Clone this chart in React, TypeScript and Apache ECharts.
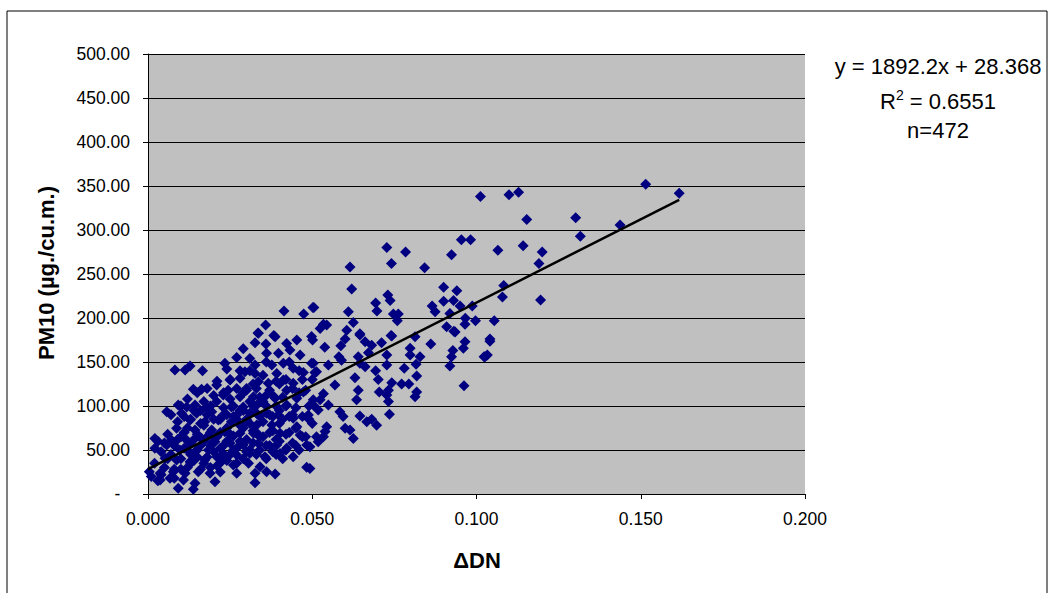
import React, { useEffect, useRef } from "react";
import * as echarts from "echarts";

// ΔDN (x) and PM10 (y)
const deltaDN: number[] = [
  0.0414, 0.0474, 0.0502, 0.0358, 0.0335, 0.0383,
  0.1012, 0.0954, 0.0982, 0.0727, 0.0784, 0.0924, 0.0741, 0.0615, 0.0842, 0.062, 0.09, 0.094,
  0.0505, 0.0693, 0.073, 0.0737, 0.0697, 0.061, 0.0625, 0.0747, 0.0762, 0.0759, 0.0865, 0.0874,
  0.09, 0.093, 0.095, 0.0987, 0.0919, 0.0966, 0.0997, 0.0965, 0.0909, 0.0931, 0.0534, 0.0524,
  0.0544, 0.0605, 0.0645, 0.074, 0.0498,
  0.1515, 0.1617, 0.1099, 0.1128, 0.1153, 0.1302, 0.1316, 0.1437, 0.1065, 0.1142, 0.12, 0.119,
  0.1083, 0.1079, 0.1195, 0.1054, 0.1041, 0.1041, 0.1033, 0.1023,
  0.0645, 0.0742, 0.0935, 0.0501, 0.0538, 0.0587, 0.06, 0.0661, 0.0681, 0.0711, 0.0798, 0.0813,
  0.0861, 0.0965, 0.0928, 0.096, 0.0924, 0.1026, 0.0581, 0.0589, 0.064, 0.0671, 0.0727, 0.0798,
  0.0828, 0.0503, 0.0549, 0.0645, 0.0661, 0.0727, 0.078, 0.0816, 0.0919, 0.0693, 0.0513, 0.063,
  0.0701, 0.0818, 0.0569, 0.0742, 0.0772, 0.0794, 0.0962, 0.064, 0.0704, 0.0732, 0.0818, 0.0635,
  0.0727, 0.0813, 0.0732, 0.0534, 0.0524, 0.0549, 0.0503, 0.0518, 0.0584, 0.0594, 0.0735, 0.0645,
  0.0666, 0.0681, 0.0696, 0.0544, 0.0539, 0.06, 0.0615, 0.0625, 0.0534, 0.0518, 0.0493, 0.0493,
  0.0336, 0.0387, 0.0326, 0.0359, 0.0422, 0.0453, 0.0361, 0.0397, 0.0432, 0.0463, 0.031, 0.0234,
  0.0326, 0.0377, 0.0412, 0.0442, 0.0498, 0.0082, 0.0113, 0.0128, 0.0166, 0.0295, 0.0326, 0.0392,
  0.0473, 0.0508, 0.025, 0.028, 0.0336, 0.0366, 0.0412, 0.0442, 0.0209, 0.0138, 0.0163, 0.0244,
  0.03, 0.0422, 0.0473, 0.0229, 0.028, 0.0321, 0.0361, 0.0387, 0.0453, 0.0503, 0.0209, 0.0092,
  0.0118, 0.0143, 0.0179, 0.0254, 0.029, 0.0331, 0.0422, 0.0057, 0.0102, 0.0148, 0.0194, 0.0229,
  0.027, 0.031, 0.0361, 0.0397, 0.0442, 0.0488, 0.0128, 0.0173, 0.0214, 0.0254, 0.0295, 0.0331,
  0.0377, 0.0453, 0.0087, 0.0143, 0.0194, 0.0234, 0.028, 0.0321, 0.0402, 0.0463, 0.0513, 0.0021,
  0.0072, 0.0118, 0.0163, 0.0204, 0.025, 0.029, 0.0336, 0.0392, 0.0422, 0.0483, 0.0021, 0.0057,
  0.0097, 0.0143, 0.0184, 0.0229, 0.027, 0.031, 0.0356, 0.0402, 0.0442, 0.0052, 0.0087, 0.0128,
  0.0173, 0.0219, 0.026, 0.0306, 0.0341, 0.0483, 0.0004, 0.0037, 0.0077, 0.0113, 0.0153, 0.0189,
  0.027, 0.0326, 0.0361, 0.0387, 0.0037, 0.0067, 0.0108, 0.0143, 0.0204, 0.0326, 0.0092, 0.0138,
  0.002, 0.004, 0.005, 0.006, 0.007, 0.008, 0.008, 0.009, 0.01, 0.01, 0.011, 0.011, 0.012, 0.012,
  0.013, 0.013, 0.014, 0.014, 0.015, 0.015, 0.016, 0.016, 0.017, 0.017, 0.018, 0.018, 0.019, 0.019,
  0.02, 0.02, 0.021, 0.021, 0.022, 0.022, 0.023, 0.023, 0.024, 0.024, 0.025, 0.025, 0.026, 0.026,
  0.027, 0.027, 0.028, 0.028, 0.029, 0.029, 0.03, 0.03, 0.031, 0.031, 0.032, 0.032, 0.033, 0.033,
  0.034, 0.034, 0.035, 0.035, 0.036, 0.036, 0.037, 0.037, 0.038, 0.038, 0.039, 0.039, 0.04, 0.04,
  0.041, 0.041, 0.042, 0.042, 0.043, 0.043, 0.044, 0.044, 0.045, 0.045, 0.046, 0.046, 0.047, 0.048,
  0.048, 0.049, 0.05, 0.05, 0.001, 0.003, 0.003, 0.027, 0.029, 0.024,
  0.004, 0.005, 0.006, 0.007, 0.008, 0.009, 0.01, 0.01, 0.011, 0.012, 0.012, 0.013, 0.013, 0.014,
  0.015, 0.015, 0.016, 0.016, 0.017, 0.017, 0.018, 0.018, 0.019, 0.019, 0.02, 0.02, 0.021, 0.021,
  0.022, 0.022, 0.023, 0.023, 0.024, 0.024, 0.025, 0.025, 0.026, 0.026, 0.027, 0.027, 0.028, 0.028,
  0.029, 0.029, 0.03, 0.03, 0.031, 0.031, 0.032, 0.032, 0.033, 0.033, 0.034, 0.034, 0.035, 0.035,
  0.036, 0.036, 0.037, 0.037, 0.038, 0.038, 0.039, 0.039, 0.04, 0.04, 0.041, 0.042, 0.042, 0.043,
  0.044, 0.045, 0.046, 0.047, 0.047, 0.049,
];
const pm10: number[] = [
  208, 204.5, 212, 192, 183, 180,
  338, 289, 289, 280, 275, 272, 262, 258, 257, 233, 235, 231,
  212, 217, 226, 220, 208, 207, 195, 204.5, 204.5, 197, 213.6, 207,
  219, 220, 213.6, 213.6, 205, 199.6, 197, 193, 190, 185, 193, 188,
  192, 186, 182, 180, 179,
  352, 341.7, 340, 343, 312, 314, 293, 305.7, 277, 282, 275, 262,
  237, 224, 220.5, 197, 176, 173.5, 158, 156,
  180.7, 179.5, 184, 175, 166.7, 168.5, 176, 173, 169, 172, 165.5, 178.8,
  170.5, 173, 163, 165.5, 156, 156, 156, 152, 156, 160.6, 158, 158,
  156, 148.5, 146.6, 148.5, 144.6, 146.6, 142.8, 147.4, 145.5, 140, 139, 132,
  130, 134, 124, 126.5, 125, 125, 123, 118, 116, 118, 116, 107,
  112.5, 110.6, 105, 114, 107, 101, 101, 95.5, 93.5, 88, 90.5, 88.6,
  82, 85, 78, 76.5, 71, 74.6, 72.7, 63, 65, 59.5, 53.8, 29,
  182.6, 178.8, 172, 170.5, 171, 175, 160, 160, 163.6, 158, 154, 148.5,
  146.6, 146.6, 148.5, 142.8, 148.5, 141, 141, 145.5, 140, 139, 137, 137,
  138, 138, 129.5, 131.5, 127.6, 125.8, 129.5, 125.8, 124, 119, 119, 118,
  120, 118, 116, 112.5, 110.6, 110.6, 112.5, 108.7, 108.7, 107, 105, 101,
  99, 101, 99, 99, 99, 101, 101, 93.5, 91.7, 91.7, 93.5, 89.8,
  89.8, 91.7, 91.7, 89.8, 86, 89.8, 84, 82, 84, 82, 80.3, 78.4,
  78.4, 76.5, 74.6, 72.7, 72.7, 70.8, 69, 69, 69, 67, 65, 63,
  61, 61, 63, 59.5, 57.6, 55.7, 57.6, 55.7, 52, 55.7, 52, 55.7,
  50, 48, 50, 46, 44.3, 46, 42.4, 46, 42.4, 40.5, 38.6, 36.7,
  38.6, 34.9, 33, 34.9, 31, 30.3, 25.4, 23.5, 25.4, 23.5, 25.4, 23.5,
  23.5, 23.5, 25.4, 22.7, 16, 17.8, 16, 12.1, 14, 12.9, 6.5, 5.4,
  35, 48, 30, 68, 45, 55, 28, 82, 40, 65, 52, 88, 30, 75,
  45, 58, 95, 38, 68, 50, 80, 28, 60, 105, 42, 90, 55, 70,
  48, 112, 65, 32, 85, 52, 98, 40, 75, 60, 108, 45, 88, 66,
  120, 52, 78, 95, 40, 115, 62, 85, 105, 50, 72, 125, 92, 45,
  110, 65, 82, 135, 55, 100, 118, 70, 88, 48, 128, 62, 95, 80,
  110, 40, 130, 68, 88, 150, 58, 120, 98, 75, 140, 50, 88, 118,
  65, 100, 80, 130, 20, 60, 15, 155, 165, 142,
  22, 58, 40, 90, 18, 62, 100, 28, 70, 50, 108, 35, 85, 62,
  42, 115, 55, 95, 35, 78, 65, 120, 30, 100, 60, 85, 42, 128,
  70, 25, 55, 115, 90, 38, 68, 130, 50, 100, 85, 35, 60, 140,
  75, 95, 48, 118, 80, 140, 58, 100, 70, 120, 50, 88, 65, 105,
  40, 150, 90, 55, 112, 72, 100, 45, 60, 125, 85, 50, 100, 70,
  90, 55, 115, 65, 130, 85,
];

// Trend line as reported in the chart
const trendSlope = 1892.2;
const trendIntercept = 28.368;
const trendRange: number[] = [0, 0.1617];

const yTicks: number[] = [0, 50, 100, 150, 200, 250, 300, 350, 400, 450, 500];
const xTicks: number[] = [0, 0.05, 0.1, 0.15, 0.2];

const annotationLines: string[] = ["y = 1892.2x + 28.368", "R{sup|2} = 0.6551", "n=472"];

export default function App() {
  const ref = useRef<HTMLDivElement>(null);
  useEffect(() => {
    document.body.style.margin = "0";
    if (!ref.current) return;
    const chart = echarts.init(ref.current, undefined, { renderer: "svg" });
    const points = deltaDN.map((x, i) => [x, pm10[i]]);
    const trend = trendRange.map((x) => [x, trendSlope * x + trendIntercept]);
    const font = "Arial, 'Liberation Sans', sans-serif";
    chart.setOption({
      animation: false,
      textStyle: { fontFamily: font },
      grid: {
        left: 148,
        top: 54,
        width: 657,
        height: 440,
        show: true,
        backgroundColor: "#C0C0C0",
        borderWidth: 0,
      },
      xAxis: {
        type: "value",
        min: xTicks[0],
        max: xTicks[xTicks.length - 1],
        interval: 0.05,
        axisLine: { show: true, onZero: false, lineStyle: { color: "#000", width: 1 } },
        axisTick: { show: true, length: 5, lineStyle: { color: "#000" } },
        splitLine: { show: false },
        axisLabel: {
          color: "#000",
          fontSize: 17.5,
          fontFamily: font,
          margin: 16,
          formatter: (v: number) => v.toFixed(3),
        },
      },
      yAxis: {
        type: "value",
        min: yTicks[0],
        max: yTicks[yTicks.length - 1],
        interval: 50,
        axisLine: { show: true, lineStyle: { color: "#000", width: 1 } },
        axisTick: { show: true, length: 5, lineStyle: { color: "#000" } },
        splitLine: { show: true, lineStyle: { color: "#000", width: 1 } },
        axisLabel: {
          color: "#000",
          fontSize: 17.5,
          fontFamily: font,
          margin: 18,
          formatter: (v: number) => (v === 0 ? "-  " : v.toFixed(2)),
        },
      },
      series: [
        {
          type: "scatter",
          data: points,
          symbol: "diamond",
          symbolSize: 11,
          itemStyle: { color: "#000080", opacity: 1 },
          z: 2,
        },
        {
          type: "line",
          data: trend,
          symbol: "none",
          lineStyle: { color: "#000", width: 2.5 },
          z: 3,
        },
      ],
      graphic: [
        {
          type: "rect",
          shape: { x: 7, y: 11, width: 1040, height: 620 },
          style: { fill: "none", stroke: "#000", lineWidth: 1 },
          silent: true,
        },
        {
          type: "text",
          x: 477,
          y: 560,
          style: {
            text: "ΔDN",
            font: `bold 22px ${font}`,
            fill: "#000",
            align: "center",
            verticalAlign: "middle",
          },
        },
        {
          type: "text",
          x: 46,
          y: 273,
          rotation: Math.PI / 2,
          style: {
            text: "PM10 (µg./cu.m.)",
            font: `bold 22px ${font}`,
            fill: "#000",
            align: "center",
            verticalAlign: "middle",
          },
        },
        ...annotationLines.map((t, i) => ({
          type: "text",
          x: 938,
          y: [66, 101, 130][i],
          style: {
            text: t,
            font: `22px ${font}`,
            fill: "#000",
            align: "center",
            verticalAlign: "middle",
            rich: {
              sup: { fontSize: 14, verticalAlign: "top", padding: [0, 0, 12, 0], fontFamily: font },
            },
          },
        })),
      ],
    });
    return () => chart.dispose();
  }, []);
  return <div ref={ref} style={{ width: 1052, height: 593 }} />;
}
